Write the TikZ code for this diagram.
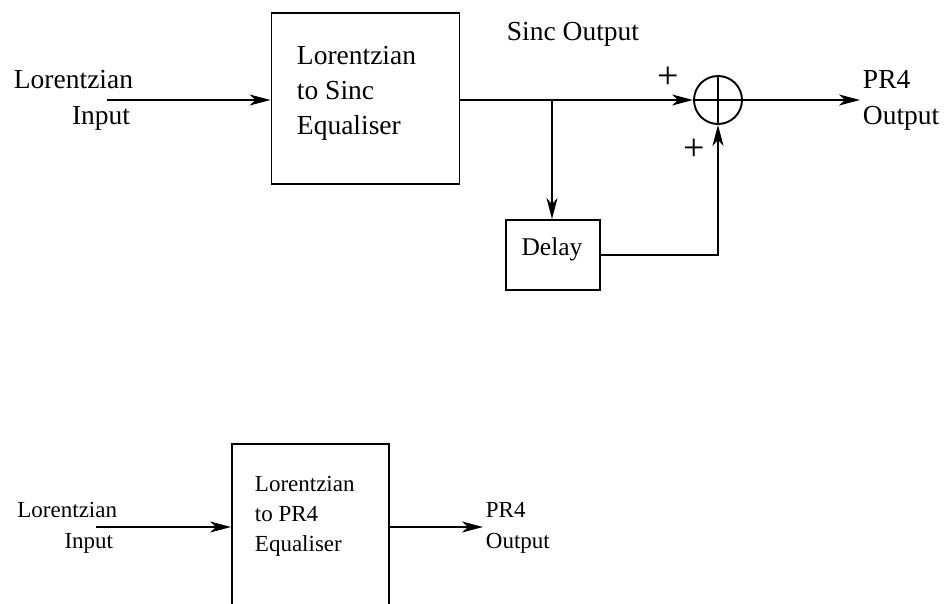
\documentclass[tikz,border=0pt]{standalone}
\usepackage{fontspec}
\setmainfont{Liberation Serif}
\usetikzlibrary{arrows.meta}
\begin{document}
\begin{tikzpicture}[x=1pt,y=-1pt,line width=1.9pt,
  blk/.style={draw,line width=1.9pt,inner sep=0pt},
  lbl/.style={inner sep=0pt,font=\fontsize{27.5}{33}\selectfont},
  lbls/.style={inner sep=0pt,font=\fontsize{23}{28}\selectfont},
  plus/.style={inner sep=0pt,font=\fontsize{38}{40}\selectfont},
  conn/.style={-{Stealth[length=21pt,width=11pt,inset=6pt]}}]
\useasboundingbox (0,0) rectangle (944,604);
\clip (0,0) rectangle (944,604);
% ---------- top diagram ----------
\node[blk,minimum width=188pt,minimum height=171pt] (eq1) at (365.5,98.5) {};
\node[lbl,anchor=base west] (eq1a) at (296,65) {Lorentzian};
\node[lbl,anchor=base west] (eq1b) at (296,100) {to Sinc};
\node[lbl,anchor=base west] (eq1c) at (296,135) {Equaliser};
\node[lbl,anchor=base east] (inA) at (134,89) {Lorentzian};
\node[lbl,anchor=base east] (inB) at (131,125) {Input};
\coordinate (in1) at (107,100);
\draw[conn] (in1) -- (in1 -| eq1.west);
\node[draw,circle,minimum size=48pt,inner sep=0pt] (sum) at (718,100) {};
\draw (sum.north) -- (sum.south);
\draw (sum.west) -- (sum.east);
\coordinate (br) at (552,100);
\draw[conn] (sum.west -| eq1.east) -- (sum.west);
\node[blk,minimum width=94pt,minimum height=70pt] (delay) at (553,255) {};
\node[inner sep=0pt,font=\fontsize{25.5}{30}\selectfont,anchor=base] (delayt) at (552,255) {Delay};
\draw[conn] (br) -- (br |- delay.north);
\draw[conn] (delay.east) -| (sum.south);
\coordinate (out1) at (860,100);
\draw[conn] (sum.east) -- (out1);
\node[lbl,anchor=base west] (o1a) at (862,89) {PR4};
\node[lbl,anchor=base west] (o1b) at (862,125) {Output};
\node[lbl,anchor=base west] (sinc) at (506,41) {Sinc Output};
\node[plus] (p1) at (668,78) {+};
\node[plus] (p2) at (694,150) {+};
% ---------- bottom diagram ----------
\node[blk,minimum width=157pt,minimum height=200pt,anchor=north] (eq2) at (310.5,443) {};
\node[lbls,anchor=base west] (eq2a) at (254,491) {Lorentzian};
\node[lbls,anchor=base west] (eq2b) at (254,521) {to PR4};
\node[lbls,anchor=base west] (eq2c) at (254,551) {Equaliser};
\node[lbls,anchor=base east] (inC) at (118,517) {Lorentzian};
\node[lbls,anchor=base east] (inD) at (114,548) {Input};
\coordinate (in2) at (96,527);
\draw[conn] (in2) -- (in2 -| eq2.west);
\coordinate (out2) at (483,527);
\draw[conn] (out2 -| eq2.east) -- (out2);
\node[lbls,anchor=base west] (o2a) at (485,517) {PR4};
\node[lbls,anchor=base west] (o2b) at (485,548) {Output};
\end{tikzpicture}
\end{document}
